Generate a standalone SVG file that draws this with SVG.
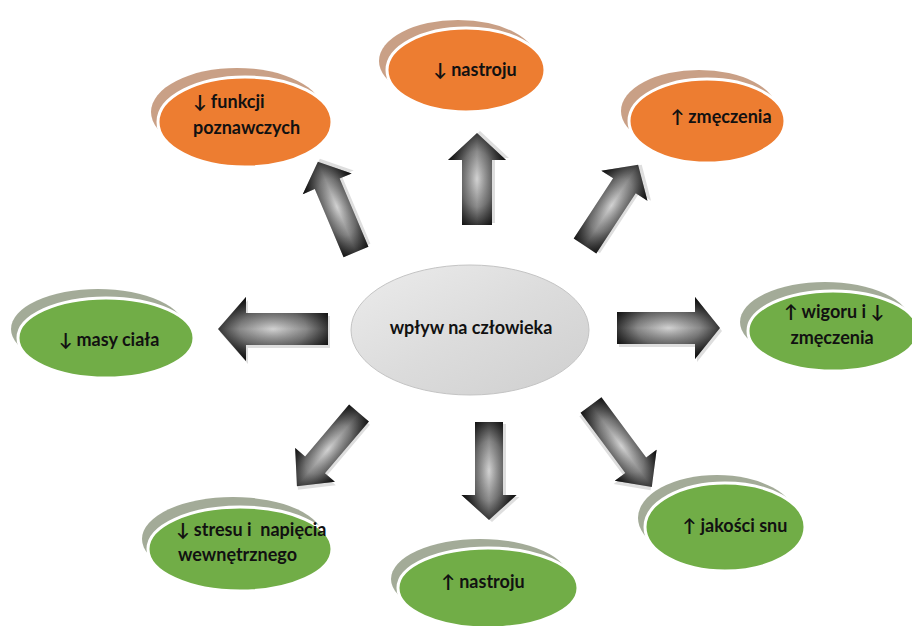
<svg xmlns="http://www.w3.org/2000/svg" width="912" height="626" viewBox="0 0 912 626">
<defs>
<radialGradient id="ag" cx="0.5" cy="0.5" r="0.55">
<stop offset="0" stop-color="#d2d2d2"/>
<stop offset="0.55" stop-color="#8a8a8a"/>
<stop offset="1" stop-color="#1e1e1e"/>
</radialGradient>
<linearGradient id="ax" x1="0" y1="0" x2="0" y2="1">
<stop offset="0" stop-color="#000" stop-opacity="0.6"/>
<stop offset="0.5" stop-color="#000" stop-opacity="0"/>
<stop offset="1" stop-color="#000" stop-opacity="0.6"/>
</linearGradient>
<linearGradient id="cg" x1="0" y1="0" x2="1" y2="1">
<stop offset="0" stop-color="#ececec"/>
<stop offset="0.5" stop-color="#dcdcdc"/>
<stop offset="1" stop-color="#cfcfcf"/>
</linearGradient>
</defs>
<style>
.or{fill:#ed7d31;stroke:#fff;stroke-width:3}
.os{fill:#c9a086}
.gr{fill:#71ad47;stroke:#fff;stroke-width:3}
.gs{fill:#a3ab98}
.t{font-family:Lato,"Liberation Sans","DejaVu Sans",sans-serif;font-weight:bold;font-size:18px;fill:#111}
.m{text-anchor:middle}
.arr{fill:url(#ag)}
.arx{fill:url(#ax)}
.sh{fill:#c8c8c8;opacity:0.6}
</style>
<rect width="912" height="626" fill="#fff"/>

<g id="connectors">
<g transform="translate(477,225) rotate(-90)"><polygon class="sh" transform="translate(2,3)" points="0,-15 65,-15 65,-29 92,0 65,29 65,15 0,15"/><polygon class="arr" points="0,-15 65,-15 65,-29 92,0 65,29 65,15 0,15"/><polygon class="arx" points="0,-15 65,-15 65,-29 92,0 65,29 65,15 0,15"/></g>
<g transform="translate(356,252) rotate(-112.9)"><polygon class="sh" transform="translate(2,3)" points="0,-13.5 74,-13.5 74,-26.5 98,0 74,26.5 74,13.5 0,13.5"/><polygon class="arr" points="0,-13.5 74,-13.5 74,-26.5 98,0 74,26.5 74,13.5 0,13.5"/><polygon class="arx" points="0,-13.5 74,-13.5 74,-26.5 98,0 74,26.5 74,13.5 0,13.5"/></g>
<g transform="translate(585,246) rotate(-56.8)"><polygon class="sh" transform="translate(2,3)" points="0,-13.5 72,-13.5 72,-27.5 97,0 72,27.5 72,13.5 0,13.5"/><polygon class="arr" points="0,-13.5 72,-13.5 72,-27.5 97,0 72,27.5 72,13.5 0,13.5"/><polygon class="arx" points="0,-13.5 72,-13.5 72,-27.5 97,0 72,27.5 72,13.5 0,13.5"/></g>
<g transform="translate(328,329) rotate(180)"><polygon class="sh" transform="translate(-2,-3)" points="0,-16 82,-16 82,-32 110,0 82,32 82,16 0,16"/><polygon class="arr" points="0,-16 82,-16 82,-32 110,0 82,32 82,16 0,16"/><polygon class="arx" points="0,-16 82,-16 82,-32 110,0 82,32 82,16 0,16"/></g>
<g transform="translate(617,328)"><polygon class="sh" transform="translate(2,3)" points="0,-16 78,-16 78,-31 103,0 78,31 78,16 0,16"/><polygon class="arr" points="0,-16 78,-16 78,-31 103,0 78,31 78,16 0,16"/><polygon class="arx" points="0,-16 78,-16 78,-31 103,0 78,31 78,16 0,16"/></g>
<g transform="translate(359,413) rotate(130.3)"><polygon class="sh" transform="translate(2,-3)" points="0,-13 68,-13 68,-26 96,0 68,26 68,13 0,13"/><polygon class="arr" points="0,-13 68,-13 68,-26 96,0 68,26 68,13 0,13"/><polygon class="arx" points="0,-13 68,-13 68,-26 96,0 68,26 68,13 0,13"/></g>
<g transform="translate(489,422) rotate(90)"><polygon class="sh" transform="translate(2,-3)" points="0,-14 73,-14 73,-27.5 98,0 73,27.5 73,14 0,14"/><polygon class="arr" points="0,-14 73,-14 73,-27.5 98,0 73,27.5 73,14 0,14"/><polygon class="arx" points="0,-14 73,-14 73,-27.5 98,0 73,27.5 73,14 0,14"/></g>
<g transform="translate(591,405) rotate(53.4)"><polygon class="sh" transform="translate(2,3)" points="0,-13 75,-13 75,-26 102,0 75,26 75,13 0,13"/><polygon class="arr" points="0,-13 75,-13 75,-26 102,0 75,26 75,13 0,13"/><polygon class="arx" points="0,-13 75,-13 75,-26 102,0 75,26 75,13 0,13"/></g>
</g>

<g id="center">
<ellipse cx="470" cy="330" rx="119" ry="65" fill="url(#cg)" stroke="#c4c4c4" stroke-width="1"/>
<text class="t m" x="471" y="334">wpływ na człowieka</text>
</g>

<g id="n-nastroju-top">
<ellipse class="os" cx="458" cy="61" rx="79" ry="41"/>
<ellipse class="or" cx="466" cy="70" rx="79" ry="42"/>
<text class="t m" x="475" y="76">↓ nastroju</text>
</g>

<g id="n-funkcji">
<ellipse class="os" cx="237" cy="112" rx="86" ry="44"/>
<ellipse class="or" cx="245" cy="122" rx="87" ry="45"/>
<text class="t" x="193" y="108">↓ funkcji</text>
<text class="t" x="193" y="134">poznawczych</text>
</g>

<g id="n-zmeczenia">
<ellipse class="os" cx="699" cy="111" rx="78" ry="41"/>
<ellipse class="or" cx="707" cy="121" rx="78" ry="42"/>
<text class="t m" x="721" y="123">↑ zmęczenia</text>
</g>

<g id="n-masy">
<ellipse class="gs" cx="98" cy="329" rx="87" ry="40"/>
<ellipse class="gr" cx="106" cy="338" rx="88" ry="40"/>
<text class="t m" x="109" y="346">↓ masy ciała</text>
</g>

<g id="n-wigoru">
<ellipse class="gs" cx="825" cy="322" rx="85" ry="40"/>
<ellipse class="gr" cx="833" cy="331" rx="85" ry="40"/>
<text class="t m" x="834" y="318">↑ wigoru i ↓</text>
<text class="t m" x="832" y="344">zmęczenia</text>
</g>

<g id="n-stresu">
<ellipse class="gs" cx="233" cy="539" rx="91" ry="42"/>
<ellipse class="gr" cx="240" cy="549" rx="92" ry="42"/>
<text class="t" x="176" y="536" xml:space="preserve">↓ stresu i  napięcia</text>
<text class="t" x="178" y="561">wewnętrznego</text>
</g>

<g id="n-nastroju-bottom">
<ellipse class="gs" cx="480" cy="579" rx="89" ry="40"/>
<ellipse class="gr" cx="488" cy="588" rx="90" ry="40"/>
<text class="t m" x="483" y="588">↑ nastroju</text>
</g>

<g id="n-jakosci">
<ellipse class="gs" cx="717" cy="518" rx="79" ry="43"/>
<ellipse class="gr" cx="725" cy="527" rx="80" ry="44"/>
<text class="t m" x="735" y="532">↑ jakości snu</text>
</g>
</svg>
